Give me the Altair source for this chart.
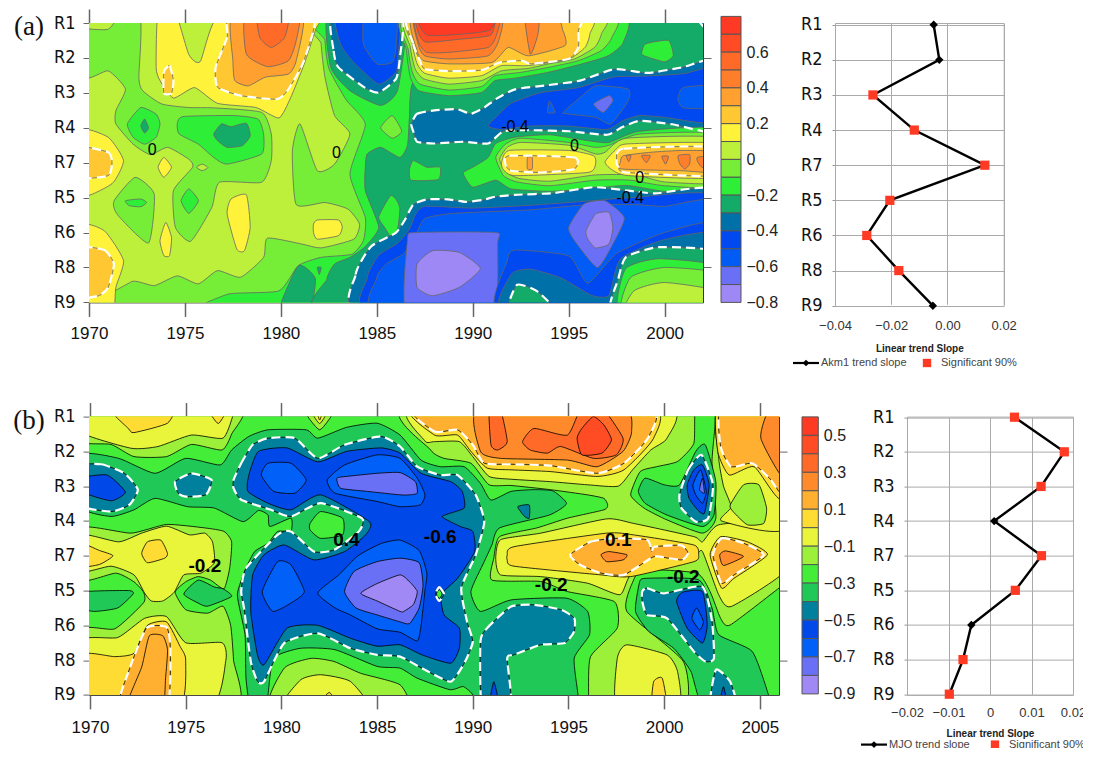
import altair as alt
import pandas as pd

ROWS = ["R1", "R2", "R3", "R4", "R7", "R5", "R6", "R8", "R9"]
LV_A = [0.7, 0.6, 0.5, 0.4, 0.3, 0.2, 0.1, 0.0, -0.1, -0.2, -0.3, -0.4, -0.5, -0.6, -0.7, -0.8]
COL_A = ["#ff3a24", "#ff4c24", "#ff6a28", "#ff7e2c", "#ffa030", "#ffc832", "#fff23a", "#bcf03a",
         "#76ee38", "#2eee38", "#14aa68", "#0070a8", "#0048f0", "#005cf5", "#6a70f5", "#9e88f5"]
LV_B = [0.5, 0.4, 0.3, 0.2, 0.1, 0.0, -0.1, -0.2, -0.3, -0.4, -0.5, -0.6, -0.7, -0.8, -0.9]
COL_B = ["#ff3a24", "#ff4c24", "#ff6a28", "#ff8a2c", "#ffb030", "#ffdc34", "#e8f53a", "#9cf03a",
         "#44ee38", "#20c858", "#00809c", "#0048e8", "#0060f8", "#6a70f5", "#a088f5"]

TREND_A = [-0.0049, -0.0029, -0.0265, -0.0118, 0.0133, -0.0205, -0.0287, -0.0173, -0.0052]
SIG_A = [0, 0, 1, 1, 1, 1, 1, 1, 0]
TREND_B = [0.0059, 0.0179, 0.0123, 0.001, 0.0124, 0.0061, -0.0045, -0.0065, -0.0098]
SIG_B = [1, 1, 1, 0, 1, 1, 0, 1, 1]

LABELS_A = [(1992.2, 2.97, "-0.4"), (1995.3, 3.52, "0"), (1998.7, 4.45, "0"), (1998.2, 5.0, "-0.4"),
            (1973.3, 3.64, "0"), (1982.9, 3.72, "0")]
LABELS_B = [(1976.0, 4.3, "-0.2"), (1983.4, 3.55, "0.4"), (1988.3, 3.45, "-0.6"), (1997.6, 3.55, "0.1"),
            (1994.1, 4.85, "-0.2"), (2001.0, 4.6, "-0.2")]

# (band lower bound, significance outline?, [year, row, year, row, ...]) painted in order
A_POLYS = [
 (0.0, 0, [1969, -1, 2003, -1, 2003, 9, 1969, 9]),
 (-0.1, 0, [1969.8,-.3,1972.6,-.3,1972.6,1.56,1972.8,1.94,1973.8,2.32,1975.2,2.42,1976.5,2.43,1979,2.56,1979.5,3.18,1979.5,3.94,1979,4.56,1976.8,4.56,1976.4,5.28,1975.3,6.25,1974.5,5.85,1974.4,4.8,1975.4,4.13,1975.2,3.9,1974.1,3.56,1973.2,3.77,1972.3,3.47,1971.4,2.89,1971.4,2.51,1971.9,1.89,1971,1.37,1969.8,1.54]),
 (-0.1, 0, [1971.3,5.1,1972.4,4.42,1973.4,4.9,1973.1,6.3,1971.5,5.5]),
 (0.0, 0, [1969.5,-.3,1971.5,-.3,1971,.18,1969.5,.12]),
 (-0.1, 0, [1971.5,8.4,1972.2,7.41,1973.4,7.52,1974.6,7.24,1975.7,7.47,1976.7,7.09,1977.9,7.28,1979.1,6.71,1979.3,6.16,1981.1,6.33,1982.1,6.44,1983.8,6.19,1984.1,5.76,1983.5,5.33,1982.3,5.14,1980.8,5.2,1980.6,3.66,1981,2.89,1981.9,4.23,1982.8,4.04,1983.6,3.18,1982.8,2.65,1982.3,1.56,1982.1,.6,1982.2,-.3,2003,-.3,2003,8.4]),
 (-0.2, 0, [1976.5,8.4,1977.2,7.77,1979.9,7.67,1980.9,6.95,1982.1,6.71,1983.7,6.62,1984.3,6.23,1984.4,5.57,1983.6,4.32,1984.4,2.9,1983.4,2.2,1982.5,1.3,1982.3,.5,1982.4,-.3,2003,-.3,2003,8.4]),
 (-0.2, 0, [1972,2.89,1972.7,2.42,1973.5,2.61,1973.7,2.89,1973.5,3.27,1972.9,3.47,1972.3,3.27]),
 (-0.3, 0, [1972.9,2.75,1973.1,3,1972.9,3.15,1972.7,2.95]),
 (-0.2, 0, [1974.6,2.89,1974.9,2.68,1977.5,2.65,1978.8,2.75,1979.1,3.18,1979,3.75,1977.2,4.04,1976.5,3.85,1975.7,3.47,1974.7,3.18]),
 (-0.3, 0, [1976.5,3.18,1976.9,2.89,1977.4,2.97,1978.2,2.87,1978.4,3.23,1978,3.51,1977.2,3.56,1976.7,3.37]),
 (-0.2, 0, [1971.9,5.09,1972.7,5.04,1973,5.14,1972.7,5.26,1972.1,5.23]),
 (-0.2, 0, [1974.8,5.09,1975.2,4.75,1975.7,5.09,1975.2,5.45]),
 (0.0, 0, [1975.6,4.13,1975.9,4.04,1976.2,4.14,1975.9,4.23]),
 (0.1, 0, [1973.6,-.3,1973.5,1.27,1973.7,1.65,1974.4,2.15,1975.5,1.85,1976.7,2.3,1978.7,2.42,1979.9,2.72,1980.5,2.15,1981.2,1.2,1981.8,.2,1982,-.3,1976.9,-.3,1975.8,1.1,1975.2,.9,1974.5,-.3]),
 (0.2, 1, [1973.9,1.41,1974.2,1.22,1974.4,1.65,1974.3,2.01,1973.9,2.01]),
 (0.2, 1, [1977.4,-.3,1977.2,.41,1976.6,1.27,1976.7,1.84,1977.9,2.08,1979.8,2.18,1980.4,1.89,1981.2,1.08,1981.7,-.3]),
 (0.3, 0, [1977.5,-.3,1977.5,1.08,1977.6,1.65,1978.3,1.8,1979.2,1.55,1980.4,1.46,1980.8,1.08,1981.1,-.3]),
 (0.4, 0, [1978.2,-.3,1978.2,.89,1979.3,1.25,1980.4,1.08,1980.8,.5,1980.9,-.3]),
 (0.5, 0, [1978.8,-.3,1978.9,.41,1979.5,.7,1980.2,.41,1980.4,-.3]),
 (0.1, 0, [1969.5,3.08,1971,3.27,1971.8,3.94,1971.2,4.6,1969.5,4.95]),
 (0.2, 1, [1969.5,3.56,1971,3.7,1971.2,4,1971,4.37,1969.5,4.42]),
 (0.1, 0, [1973.6,4.13,1973.9,3.85,1974.3,4.13,1973.9,4.42]),
 (0.1, 0, [1973.7,6.23,1974,5.71,1974.3,6.14,1974.2,6.66,1973.9,6.66]),
 (0.1, 0, [1977.2,5.47,1977.4,5.04,1978.2,4.92,1978.4,5.85,1978.1,6.52,1977.7,6.47]),
 (0.1, 0, [1981.7,5.76,1981.9,5.64,1983,5.64,1983.2,5.85,1983,6.09,1981.9,6.19,1981.7,6]),
 (0.1, 0, [1969.5,5.85,1970.8,5.95,1971.8,6.8,1971.4,7.57,1971.2,8.4,1969.5,8.4]),
 (0.2, 1, [1969.5,6.47,1970.8,6.5,1971.3,6.9,1971,7.57,1970.5,7.81,1969.5,7.81]),
 (-0.3, 0, [1979.8,8.4,1980.9,6.95,1981.8,7.33,1981.4,8.4]),
 (-0.3, 0, [1981.9,7,1982.1,7,1982,7.2]),
 (-0.3, 0, [1982.5,-.3,1982.6,1.27,1983.6,1.94,1985.2,2.36,1986.1,1.9,1986.4,-.3]),
 (-0.4, 1, [1982.7,-.3,1982.75,.8,1983,1.27,1984.4,1.86,1985.1,1.99,1986,1.6,1986.2,1,1986.25,-.3]),
 (-0.5, 0, [1982.9,-.3,1983.1,.6,1983.8,1.13,1985.1,1.75,1986,1.41,1986.1,.98,1986.1,-.3]),
 (-0.6, 0, [1984.4,-.3,1984.3,.6,1985,1.17,1985.8,1.13,1986,.7,1986,-.3]),
 (-0.3, 0, [1982.4,8.4,1982.4,7.33,1982.8,6.9,1983.6,6.71,1984.4,6.4,1985.1,5.85,1984.4,4.8,1984.4,4.13,1984.5,3.75,1985.2,3.56,1986.2,3.85,1986.6,3.5,1986.7,2.7,1986.9,1.7,1989,1.5,1992,1.2,1995,1,1997,.6,1997.5,-.3,2003,-.3,2003,8.4]),
 (-0.1, 0, [1985.2,3,1985.8,2.65,1986.3,3.1,1985.8,3.3]),
 (-0.2, 0, [1985.1,5.55,1985.7,4.95,1986,5.05,1986.2,5.3,1986.1,5.85,1985.8,6.15,1985.4,5.85]),
 (-0.2, 0, [1986.7,4.2,1986.9,3.94,1987.6,4.13,1988.3,4.13,1988.2,4.48,1986.8,4.5]),
 (-0.2, 0, [1998.8,.89,1999,.6,2000.2,.5,2000.45,.94,2000,1.11,1999.15,.98]),
 (-0.4, 1, [2001.5,-.3,2002.2,.2,2002.3,-.3]),
 (-0.2, 0, [1986.6,-.3,1986.55,.79,1986.75,1.56,1987.2,1.94,1988.75,2.08,1990.45,1.99,1991.15,1.65,1992.2,1.58,1993.95,1.41,1995.7,1.17,1997.05,.94,1997.85,.55,1997.6,-.3]),
 (-0.1, 0, [1986.65,-.3,1986.65,.79,1986.85,1.41,1987.25,1.75,1988.75,1.92,1990.45,1.82,1991.15,1.51,1992.55,1.41,1993.95,1.27,1995.5,1.08,1996.7,.79,1997.25,.41,1997.15,-.3]),
 (0.0, 0, [1986.75,-.3,1986.75,.7,1987,1.32,1987.45,1.6,1988.75,1.75,1990.45,1.65,1991.5,1.37,1992.9,1.3,1993.95,1.17,1995.3,1.03,1996.35,.7,1996.7,.32,1996.65,-.3]),
 (0.1, 0, [1986.8,-.3,1986.85,.6,1987.1,1.17,1987.5,1.44,1988.75,1.58,1990.45,1.51,1991.5,1.22,1992.9,1.22,1995,1.03,1995.85,.7,1996.1,.32,1995.95,-.3]),
 (0.2, 1, [1986.85,-.3,1986.9,.6,1987.25,1.08,1987.5,1.32,1988.9,1.38,1990.45,1.35,1991.4,1.13,1992.55,1.08,1993.05,1.17,1995,1.03,1995.5,.7,1995.5,.22,1995.35,-.3]),
 (0.3, 0, [1987,-.3,1987.1,.79,1987.45,1.08,1988.75,1.17,1991,1.13,1991.85,.7,1992.9,.94,1994.8,.65,1994.7,.22,1993.95,-.3]),
 (0.4, 0, [1987.05,-.3,1987.15,.6,1987.5,.94,1988.75,1.03,1990.8,.94,1991.35,.51,1991.4,-.3]),
 (0.4, 0, [1992.7,-.3,1993,.89,1993.4,.32,1993.45,-.3]),
 (0.5, 0, [1987.1,-.3,1987.15,.51,1987.6,.84,1988.75,.84,1990.8,.7,1991.25,.32,1991.25,-.3]),
 (0.6, 0, [1987.15,-.3,1987.2,.32,1987.6,.55,1989.4,.46,1990.9,.36,1991.15,.03,1991.2,-.3]),
 (0.7, 0, [1987.2,-.3,1987.3,.15,1987.7,.36,1989.4,.32,1990.9,.2,1991.1,-.3]),
 (-0.4, 1, [1986.8,2.9,1987.1,2.6,1988,2.5,1989.2,2.47,1989.9,2.6,1990.6,2.42,1991.2,2.18,1992.2,1.9,1993.9,1.78,1995.6,1.65,1997.4,1.32,1999.1,1.43,2000.9,1.27,2003,1.05,2003,3.1,2000.4,2.9,1998.7,2.8,1997.8,2.98,1997,3.2,1995,3.1,1993,3.07,1991.6,3.1,1990.8,3.45,1989.5,3.4,1988,3.45,1987.1,3.4,1986.9,3.1]),
 (-0.5, 0, [1990.8,2.95,1991.3,2.65,1992,2.3,1993.5,2,1995.5,1.85,1997.3,1.55,1999,1.52,2001,1.45,2003,1.25,2003,2.85,2000,2.7,1998.7,2.65,1997.8,2.8,1997,3.05,1995,2.95,1993,2.95,1991.5,3.05]),
 (-0.6, 0, [1994.7,2.56,1995.5,2.18,1996.4,1.8,1998.1,1.89,1998.1,2.23,1997.2,2.89,1996.4,2.7,1994.9,2.6]),
 (-0.6, 0, [2000.7,2.13,2001,1.84,2003,1.8,2003,2.42,2001,2.43,2000.7,2.2]),
 (-0.6, 0, [1993.9,2.56,1994,2.23,1994.3,2.56]),
 (-0.7, 0, [1996.3,2.32,1997.1,2.08,1997.3,2.23,1996.8,2.56]),
 (-0.2, 0, [1989.5,4.3,1990,4.13,1990.8,3.85,1991.2,3.45,1992.2,3.27,1994,3.2,1996,3.37,1997.1,3.42,1998.7,3.1,2003,3.05,2003,4.87,2000,4.82,1998,4.65,1996,4.75,1994,4.82,1992,4.75,1991.2,4.5,1990,4.7]),
 (-0.1, 0, [1991.2,3.85,1991.7,3.47,1992.5,3.3,1995,3.42,1996.4,3.56,1997.1,3.5,1998.7,3.18,2003,3.2,2003,4.66,2000,4.66,1998.2,4.5,1996.4,4.5,1994,4.66,1992.3,4.55,1991.6,4.37]),
 (0.0, 0, [1991.4,3.9,1991.8,3.56,1992.5,3.42,1995,3.5,1996.4,3.75,1996.9,3.7,1998,3.3,2003,3.3,2003,4.55,2000,4.55,1998.5,4.35,1996.4,4.35,1994,4.53,1992.4,4.45,1991.7,4.25]),
 (0.1, 0, [1991.5,4,1991.9,3.65,1995,3.65,1996.3,3.8,1996.4,4.04,1996,4.28,1992.2,4.37,1991.6,4.2]),
 (0.2, 1, [1991.9,3.8,1995.3,3.85,1995.3,4.18,1993.6,4.28,1992,4.23,1991.7,4.04]),
 (0.3, 0, [1992.85,3.85,1993.1,3.85,1993.1,4.18,1992.85,4.18]),
 (0.1, 0, [1996.9,3.97,1997.5,3.6,1998.1,3.46,2003,3.46,2003,4.42,1998.1,4.37,1997.2,4.18]),
 (0.2, 1, [1997.5,3.97,1997.85,3.6,2003,3.56,2003,4.37,1998,4.28,1997.6,4.13]),
 (0.3, 0, [1997.7,3.98,1997.85,3.8,1999.3,3.7,2000.9,3.65,2003,3.7,2003,4.28,2000.9,4.23,1997.75,4.18]),
 (0.4, 0, [1998,3.8,1998.25,3.8,1998.13,3.97]),
 (0.4, 0, [1998.8,3.8,1999.25,3.8,1999.05,4]),
 (0.4, 0, [1999.85,3.82,2000.2,3.82,2000.05,4.04]),
 (0.4, 0, [2000.7,3.8,2001.3,3.77,2001.3,4.04,2001.05,4.18,2000.8,4.04]),
 (0.4, 0, [2001.7,3.85,2003,3.8,2003,4.2,2001.95,4.13]),
 (-0.4, 1, [1984.5,8.4,1983.9,7.2,1984.7,6.4,1986,6,1986.5,5.6,1986.9,5.2,1987.6,5.05,1988.7,5.05,1989.6,5.12,1990.5,5.07,1991.2,4.97,1992.2,4.92,1994.2,4.87,1996.3,4.7,1998.1,4.8,1999.5,4.88,2003,4.85,2003,8.4]),
 (-0.5, 0, [1985,8.4,1984.5,7.3,1985.1,6.65,1986.1,6.3,1986.7,5.9,1987,5.5,1987.5,5.25,1990,5.3,1993,5.22,1996,5.1,1998.3,5,2003,5,2003,8.4]),
 (-0.6, 0, [1985.4,8.4,1985,7.3,1985.5,6.9,1986.4,6.6,1987,6.1,1987.5,5.6,1989,5.45,1993,5.35,1996,5.2,1998.5,5.2,2000,5.25,2003,5.15,2003,8.4]),
 (-0.7, 0, [1986.6,8.4,1986.6,6.2,1987,6,1991.2,6,1991.3,6.3,1991,8.4]),
 (-0.8, 0, [1987.1,7.57,1987.1,6.9,1987.9,6.52,1989.3,6.57,1990.4,7.03,1989.3,7.57,1987.9,7.81]),
 (-0.7, 0, [1995,5.85,1995.8,5.18,1996.9,5.09,1997.9,5.57,1997.4,6.23,1996.5,7,1995.3,6.23]),
 (-0.8, 0, [1995.9,5.95,1996.4,5.47,1997.1,5.42,1997.3,5.85,1997.1,6.33,1996.4,6.44,1996,6.19]),
 (-0.5, 0, [1991.5,8.4,1991.8,6.8,1992.2,6.5,1995,6.67,1996,7.45,1997.5,6.6,2000,6,2003,5.75,2003,8.4]),
 (-0.4, 0, [1991.7,8.4,1992,7.2,1993,7.05,1994.6,7.3,1996.2,7.8,1997.1,7.8,1997.7,6.75,2000,6.2,2003,6.05,2003,8.4]),
 (-0.3, 1, [1991.8,8.4,1992.3,7.5,1993.4,7.7,1994.5,8.4]),
 (-0.3, 1, [1997.3,8.4,1997.6,7.3,1998,6.7,1999.7,6.42,2003,6.6,2003,8.4]),
 (-0.2, 0, [1997.7,8.4,1997.95,7.05,1999.7,6.75,2003,7,2003,8.4]),
 (-0.1, 0, [1997.85,8.4,1998.2,7.3,2000,7,2003,7.2,2003,8.4]),
 (0.0, 0, [1998,8.4,1998.4,7.67,2000,7.43,2003,7.7,2003,8.4]),
]

B_POLYS = [
 (-0.3, 0, [1969, -1, 2007, -1, 2007, 9, 1969, 9]),
 (-0.2, 0, [1969.5,-.3,1969.5,.72,1971.1,.8,1972.3,1.15,1974,1.15,1975.3,.8,1976.9,.96,1977.4,.5,1977.8,-.3]),
 (-0.1, 0, [1969.5,-.3,1969.5,.45,1972.15,.91,1973.55,.86,1975.3,.53,1976.95,.62,1977.45,0,1977.5,-.3]),
 (0.0, 0, [1971,-.3,1972,.34,1972.3,.46,1974.05,.19,1974.3,-.3]),
 (0.0, 0, [1976.1,-.3,1976.7,.2,1977.2,-.3]),
 (-0.2, 0, [1981.1,-.3,1982,.38,1982.85,-.3]),
 (-0.1, 0, [1981.45,-.3,1982,.2,1982.5,-.3]),
 (0.0, 0, [1981.8,-.3,1982,.1,1982.2,-.3]),
 (-0.2, 0, [1969.5,3.2,1972.15,3.35,1974,3.1,1976,3.2,1977,3.3,1977.4,3.6,1977.3,4.35,1977,4.95,1976.3,4.7,1975.65,4.6,1975,4.75,1974.45,5.05,1975,5.55,1976.15,5.65,1976.95,5.45,1977.35,6,1977.5,7,1977.6,8.4,1969.5,8.4,1969.5,6.15,1971.3,6.1,1972.8,5.35,1972.8,5.05,1972.3,4.75,1971.35,4.5,1969.5,4.7]),
 (-0.1, 0, [1969.5,6.45,1971.45,6.35,1972.85,5.8,1974,5.75,1975,6.5,1976.9,6.5,1977.1,7,1976.2,8.4,1969.5,8.4]),
 (0.0, 0, [1969.5,6.85,1971.3,6.9,1972.3,6.8,1973,6,1974,5.9,1974.7,6.6,1975,7,1974.6,8.4,1969.5,8.4]),
 (0.1, 1, [1971.5,8.4,1972.1,7.2,1972.95,6.08,1974,6.05,1974.2,6.7,1974,8.4]),
 (0.1, 0, [1971.9,8.4,1972.7,7.2,1973.1,6.3,1973.8,6.3,1974.05,6.7,1973.95,7.5,1973.75,8.4]),
 (-0.1, 0, [1969.5,3.4,1971.5,3.6,1972.7,3.35,1974,3.15,1975.2,3.4,1976,3.35,1976.4,3.6,1976.5,4.2,1975.8,4.5,1974.9,4.55,1974.4,5.05,1973.8,5.3,1973.2,5.3,1972.85,5.07,1972.3,4.55,1971.1,4.3,1969.5,4.45]),
 (0.0, 0, [1969.5,3.65,1970.5,3.85,1971.2,4,1970.5,4.25,1969.5,4.3]),
 (0.0, 0, [1972.7,3.93,1973,3.6,1973.7,3.55,1974.05,3.93,1973.9,4.07,1973,4.2]),
 (-0.4, 0, [1969.5,5.05,1972,5,1972.25,5.1,1971.45,5.5,1970.25,5.6,1969.5,5.5]),
 (-0.4, 0, [1974.9,5.1,1975.65,4.7,1976.5,4.9,1976.95,4.95,1977.4,5.17,1976.15,5.45,1975.65,5.36]),
 (-0.2, 0, [1979.5,8.4,1980.15,7.23,1981.55,6.95,1982.75,7.04,1984.15,7.38,1986.2,7.71,1986.4,8.4]),
 (-0.1, 0, [1980.05,8.4,1981,7.57,1982.05,7.42,1983.6,7.61,1984.5,8.4]),
 (0.0, 0, [1981.8,8.4,1982.5,7.93,1983,8.4]),
 (-0.4, 0, [1969.5,1.1,1971.5,1.2,1973.4,1.63,1975,1.2,1976.8,1.39,1977.4,.96,1978.3,.57,1979.3,.38,1981.3,.38,1981.9,.62,1983.4,.31,1985,.19,1986.2,.53,1987.3,1.25,1988.3,1.44,1989.55,1.44,1990.4,1.92,1990.95,2.4,1992,2.15,1993.2,2.1,1994.2,2.14,1994.9,2.5,1994,2.83,1991.4,3.2,1991,3.69,1990.6,4.17,1989.9,5.03,1990.4,5.6,1992,5.27,1994.9,5.22,1996,5.6,1996.1,6.27,1995.3,6.94,1995.5,8,1995.5,8.4,1990,8.4,1990,8,1989.5,7.76,1988.8,7.85,1987.1,7.52,1986.2,7.23,1985,7.18,1982.8,6.7,1981,6.66,1979.6,6.94,1979.3,8,1979.2,8.4,1978.4,8.4,1978.15,7.52,1978.1,6.27,1977.7,5.12,1978.15,4.36,1978.6,3.88,1979.3,3.64,1979.8,3.3,1980.5,3.29,1980.5,2.92,1979.4,3.16,1979.3,2.83,1978.8,2.7,1978,3.02,1976.5,2.63,1975.1,2.59,1973.4,2.35,1972.3,2.68,1971.1,2.87,1969.5,2.6]),
 (-0.5, 1, [1977.5,1.82,1977.9,1.34,1978.5,.81,1979.3,.62,1980.7,.62,1981.9,1.2,1983.3,.81,1985.2,.57,1986.2,.86,1987.1,1.44,1988.3,1.68,1989.2,1.68,1990.15,2.25,1990.6,3.02,1990.15,3.98,1989.4,4.93,1989.7,5.89,1990,6.47,1989.6,7.04,1988.85,7.62,1987.5,7.28,1986.2,6.9,1985,6.85,1983.6,6.66,1981.9,6.23,1980.15,6.51,1979.1,7.61,1978.75,7.61,1978.4,7.04,1978.05,5.51,1977.9,5.03,1978.15,4.36,1979.8,3.4,1980.5,3.3,1981.7,3.88,1982.75,3.83,1984.05,3.3,1984.2,2.92,1982.05,2.49,1980.5,2.87,1979.45,2.68,1977.9,2.39,1977.5,2.06]),
 (-0.6, 0, [1978.3,1.68,1978.8,1,1980.3,.9,1981.9,1.3,1983.4,1,1985.2,.9,1986.2,1.05,1987.3,1.63,1988.85,1.87,1989.45,2.15,1989.55,2.63,1988.4,2.87,1989.35,3.16,1990,3.3,1990.1,3.88,1989.2,4.65,1988.35,5.12,1988.5,5.7,1989.3,6.08,1989.3,6.66,1988.85,7.09,1987.35,6.85,1986.2,6.56,1985,6.6,1983.6,6.37,1981.9,6,1980.3,6.08,1979.1,7.13,1978.75,6.85,1978.4,5.6,1978.5,4.55,1979.1,3.97,1980.15,3.69,1981.7,4.12,1983.3,3.88,1984.4,3.4,1984.6,3.02,1982.05,2.25,1980.5,2.68,1979.3,2.49,1978.25,2.15]),
 (-0.7, 0, [1978.95,1.68,1979.3,1.34,1980.5,1.34,1981.3,1.82,1980.7,2.2,1979.6,2.15]),
 (-0.7, 0, [1982.4,1.82,1983.3,1.39,1985,1.1,1986.2,1.2,1987.1,1.77,1987.5,2.25,1987.25,2.54,1986.2,2.59,1985,2.44,1982.8,2.2]),
 (-0.8, 0, [1982.9,1.77,1983.4,1.72,1985,1.63,1986.2,1.61,1987,1.87,1987.1,2.2,1986.7,2.25,1986.2,2.25,1984.5,2.15,1983.1,2.06]),
 (-0.7, 0, [1979,5.03,1979.8,4.17,1980.5,4.26,1981.2,5.03,1980.5,5.36,1979.55,5.6]),
 (-0.7, 0, [1981.9,5.07,1983,4.55,1984,4,1985.2,3.65,1986.2,3.55,1987.2,3.85,1987.6,4.5,1987.5,5,1987.3,6,1987.1,6.45,1986.2,6.2,1985,6.1,1983.6,5.7,1982.8,5.5]),
 (-0.8, 0, [1983.3,5.03,1983.8,4.45,1985,4.17,1986.2,4.07,1987.2,4.2,1987.4,4.85,1987.2,5.5,1986.7,5.95,1986.2,5.9,1985,5.7,1983.9,5.5]),
 (-0.9, 0, [1984.15,5.08,1985,4.8,1986.2,4.55,1986.7,4.75,1987.1,5.03,1986.9,5.4,1986.4,5.6,1986.2,5.6,1985,5.3]),
 (-0.5, 1, [1969.5,1.44,1970.6,1.37,1971.8,1.63,1972.5,2.1,1972.05,2.54,1971.1,2.73,1969.5,2.54]),
 (-0.6, 0, [1969.5,1.77,1970.9,1.68,1971.85,2.17,1971.1,2.42,1969.5,2.15]),
 (-0.5, 1, [1974.45,1.87,1975.3,1.63,1976.35,1.82,1976.05,2.25,1975,2.3,1974.6,2.2]),
 (-0.3, 0, [1981.5,3.07,1982.05,2.73,1983.2,2.92,1983.2,3.4,1982.05,3.5,1981.5,3.26]),
 (-0.5, 1, [1988.05,5.1,1988.25,4.9,1988.5,5.1,1988.25,5.3]),
 (-0.3, 0, [1988.1,5.1,1988.25,4.97,1988.4,5.1,1988.25,5.23]),
 (-0.2, 0, [1986.7,-.3,1987.8,.96,1988.5,1.2,1989.9,1.34,1990.85,1.96,1992,1.98,1994.05,2.1,1996,2.25,1996.85,2.35,1997.05,2.54,1996.85,2.68,1994.95,2.92,1993.35,3.2,1991.4,3.45,1991.1,4.07,1991,4.7,1993.55,4.74,1994.95,5.03,1997.4,5.32,1997.55,6.08,1996.15,6.9,1996.05,8,1996.05,8.4,2001,8.4,2001,7.04,1998.05,5.6,1998.4,4.7,1998.95,4.4,2001.7,4.5,2002.4,5.03,2002.95,5.8,2003.45,5.99,2006,4.93,2006.4,4.8,2006.4,-.3]),
 (-0.3, 0, [1998.25,2.25,1998.75,1.58,1999.6,1.44,2000.7,1.29,2001.55,.77,2001.65,-.3,2002.7,-.3,2002.5,1.29,2002.7,2.92,2002,3.35,2000.15,2.97,1998.95,2.63]),
 (-0.4, 0, [1998.65,2.15,1999,1.77,2000,1.96,2000.8,1.96,2001.65,1,2002.15,.81,2002.7,1.87,2002.6,2.83,2002,3.16,2000.15,2.83,1999,2.49]),
 (-0.5, 1, [2000.8,2.25,2001.25,1.53,2001.95,1.1,2002.55,1.96,2002.3,2.92,2001.65,3.02,2000.9,2.63]),
 (-0.6, 0, [2001.2,1.96,2001.55,1.53,2002,1.39,2002.35,1.96,2002.1,2.78,2001.75,2.68,2001.3,2.35]),
 (-0.7, 0, [2001.5,1.96,2001.9,1.53,2002.2,2.15,2002,2.49,2001.65,2.25]),
 (-0.8, 0, [2001.85,2.1,2002,1.77,2002.1,2.2]),
 (-0.1, 0, [1986.9,-.3,1987.5,.7,1988,.72,1989.3,.72,1990,1.15,1990.85,1.72,1992,1.8,1994.05,1.87,1996,1.96,1997.6,2,1998.35,1.53,1999.3,.96,2000.15,.62,2000.1,-.3]),
 (0.0, 0, [1986.95,-.3,1988,.53,1989.2,.53,1989.9,1,1990.75,1.48,1992,1.53,1994.05,1.58,1996.5,1.72,1997.9,1.53,1999.45,.62,1999.2,-.3]),
 (0.1, 1, [1987.1,-.3,1988,.43,1989.2,.38,1990,.81,1990.6,1.34,1992,1.37,1994.05,1.41,1996.5,1.63,1997.9,1.34,1999.2,.57,1999.05,-.3]),
 (0.2, 0, [1990.35,-.3,1990.4,1,1991.45,1.2,1994.95,1.25,1996.5,1.44,1997.85,1,1998.3,.43,1997.75,-.3]),
 (0.3, 0, [1990.85,-.3,1990.95,.81,1991.3,.96,1991.8,.72,1991.4,-.3]),
 (0.3, 0, [1992.6,.72,1993.2,.34,1994.95,.53,1995.7,-.3,1996.7,-.3,1997.85,.62,1997.5,1.1,1996.3,1.2,1994.6,.86,1993.9,1.05,1993,.96]),
 (0.4, 0, [1995.45,.62,1995.7,.34,1996.3,0,1996.85,.24,1997.25,.67,1996.75,1.05,1995.7,1.1]),
 (-0.1, 0, [1991.2,4.07,1991.45,3.54,1993.55,3.35,1997,2.94,1998.4,3.07,2001.55,3.45,2002,3.6,2002.85,3.11,2006,2.97,2006.4,3,2006.4,4.4,2003.5,5.46,2002.85,5.12,2002,3.88,2001.55,3.98,1998.4,4.45,1997.7,5.12,1996,4.79,1993.55,4.6,1991.45,4.55]),
 (-0.1, 0, [2002.8,-.3,2002.85,1.2,2003.1,2,2003.5,2.6,2003,3,2006.4,3.2,2006.4,-.3]),
 (-0.2, 0, [2003.45,2.54,2004.15,1.96,2004.95,1.96,2005.35,2.63,2005.2,3.07,2004.35,3.11,2003.6,2.73]),
 (0.0, 0, [2002.85,-.3,2002.8,1,2003.4,1.68,2004.7,1.44,2006.1,2.35,2006.4,-.3]),
 (0.1, 1, [2003,-.3,2002.95,.86,2003.5,1.44,2004.6,1.34,2005.5,1.77,2006.4,2.3,2006.4,-.3]),
 (0.2, 0, [2005.05,.62,2005.55,-.3,2006.4,-.3,2006.4,1.87]),
 (0.0, 0, [1991.8,3.98,1992.15,3.74,1997,3.35,1998.4,3.4,2001.55,3.69,2001.8,3.98,2001.55,4.17,1998.25,4.6,1996.7,4.55,1992.15,4.3,1991.8,4.12]),
 (0.1, 1, [1995.1,3.97,1996.15,3.6,1997.4,3.5,1999.1,3.54,1999.35,3.87,1999.5,3.74,2000.9,3.7,2001.25,3.93,2000.9,4.12,1999.65,4.02,1999.3,4.07,1997.9,4.55,1996.7,4.5,1995.6,4.26]),
 (0.2, 0, [1996.7,3.97,1997.1,3.88,1998.05,3.97,1997.85,4.12,1997,4.17]),
 (0.0, 0, [2002.4,3.97,2002.95,3.45,2004.35,3.6,2005.4,3.97,2003.65,4.65,2003,4.93]),
 (0.1, 1, [2002.55,3.98,2003,3.5,2004.15,3.64,2005.2,3.98,2003.65,4.55,2003,4.79]),
 (0.2, 0, [2002.9,3.98,2003.2,3.86,2004.15,4.02,2003.1,4.28]),
 (-0.4, 0, [1998.5,5.6,1998.7,4.79,1999,4.65,2001.8,4.69,2002.5,5.5,2002.85,6.27,2004.6,6.75,2005.45,8,2005.5,8.4,2002.15,8.4,2001.4,7.33,2000.5,6.66,1999.2,6.18]),
 (-0.5, 1, [1998.85,5.03,1999.1,4.93,2000,5.08,2002,4.89,2002.5,5.89,2002.6,6.95,2002.15,7.04,2001.55,6.75,2000.15,5.8,1999.1,5.7,1998.85,5.3]),
 (-0.5, 1, [2002.4,8.4,2002.7,7.28,2003.45,7.62,2003.8,8.4]),
 (-0.6, 0, [2000.65,5.32,2000.95,5.05,2002,5.03,2002.25,5.99,2002,6.51,2001.2,6.08]),
 (-0.7, 0, [2001.45,5.8,2001.7,5.5,2002.05,5.9,2001.85,6.13]),
 (-0.6, 0, [2002.85,8.4,2003.1,7.76,2003.3,8.4]),
 (-0.5, 1, [1990.4,6.47,1990.75,6.08,1992,5.46,1993.2,5.41,1994.6,5.55,1995.3,5.79,1995.3,6.17,1994.8,6.51,1993.55,6.56,1992.15,6.85,1991.8,6.95,1992,8.4,1990.5,8.4]),
 (-0.6, 0, [1990.85,8.4,1991.1,7.62,1991.4,8.4]),
 (-0.5, 0, [1992.35,2.59,1992.95,2.54,1992.95,2.92,1992.7,2.87]),
 (-0.1, 0, [1997.55,8.4,1997.55,6.95,1998.05,6.56,2000.15,6.85,2000.7,7.33,2000.75,8.4]),
 (0.0, 0, [1999.35,8.4,1999.45,7.62,1999.9,7.52,2000.15,8.4]),
]

COND = "DejaVu Sans Condensed, Liberation Sans"
SANS = "Liberation Sans"
ONE = alt.Data(values=[{"a": 0}])
ROW_EXPR = "['R1','R2','R3','R4','R7','R5','R6','R8','R9'][datum.value]"


def poly_frame(polys):
    out, n = [], 0
    for pid, (lv, dash, xy) in enumerate(polys):
        for k in range(0, len(xy), 2):
            out.append({"pid": pid, "i": n, "yr": xy[k], "row": xy[k + 1], "lv": str(lv), "dash": dash})
            n += 1
    return pd.DataFrame(out)


def heat(polys, levels, colors, labels, x0, x1, ticks, width, height, xrange, line, tag, bold, lsize, ypad):
    df = poly_frame(polys)
    xs = alt.Scale(domain=[x0, x1], nice=False, zero=False, range=xrange)
    ys = alt.Scale(domain=[8, 0], nice=False, zero=False)
    x = alt.X("yr:Q", scale=xs, title=None,
              axis=alt.Axis(values=ticks, format="d", grid=False, domain=False, tickSize=14, tickColor="#666",
                            tickWidth=1.5, labelFont=SANS, labelFontSize=17, labelColor="#111", labelPadding=ypad,
                            labelOverlap=False, labelFlush=False))
    y = alt.Y("row:Q", scale=ys, title=None,
              axis=alt.Axis(values=list(range(9)), labelExpr=ROW_EXPR,
                            grid=False, domain=False, tickSize=6, tickColor="#666", labelFont=COND, labelFontSize=18,
                            labelColor="#111", labelPadding=8, labelOverlap=False, labelFlush=False))
    fills = alt.Chart(df).mark_line(filled=True, stroke=line, strokeWidth=0.8, interpolate="cardinal-closed",
                                    tension=0.45, clip=True).encode(
        x=x, y=y, detail="pid:N", order="i:Q",
        color=alt.Color("lv:N", scale=alt.Scale(domain=[str(v) for v in levels], range=colors), legend=None))
    dashes = alt.Chart(df[df.dash == 1]).mark_line(stroke="#ffffff", strokeWidth=2.2, strokeDash=[9, 5],
                                                   interpolate="cardinal-closed", tension=0.45, clip=True).encode(
        x=alt.X("yr:Q", scale=xs, axis=None), y=alt.Y("row:Q", scale=ys, axis=None), detail="pid:N", order="i:Q")
    ldf = pd.DataFrame(labels, columns=["yr", "row", "t"])
    txt = alt.Chart(ldf).mark_text(font=SANS, fontSize=lsize, fontWeight="bold" if bold else "normal",
                                   color="#000").encode(
        x=alt.X("yr:Q", scale=xs, axis=None), y=alt.Y("row:Q", scale=ys, axis=None), text="t:N")
    ghost = alt.Chart(pd.DataFrame({"yr": [x0], "row": [0]})).mark_point(opacity=0).encode(
        x=alt.X("yr:Q", scale=xs, title=None,
                axis=alt.Axis(orient="top", values=ticks, labels=False, domain=False, grid=False, tickSize=14,
                              tickColor="#666", tickWidth=1.5)),
        y=alt.Y("row:Q", scale=ys, title=None,
                axis=alt.Axis(orient="right", values=[1, 3, 5, 7], labels=False, domain=False, grid=False, tickSize=8,
                              tickColor="#666")))
    mark = alt.Chart(ONE).mark_text(font="Liberation Serif", fontSize=27, color="#111", align="center",
                                    baseline="middle").encode(
        x=alt.value(-60), y=alt.value(4), text=alt.value(tag))
    return alt.layer(fills, dashes, txt, ghost, mark).resolve_axis(x="independent", y="independent").properties(
        width=width, height=height, view=alt.ViewConfig(stroke="#333", strokeWidth=1))


def bar(levels, colors, step, top, yrange, values, width, height):
    df = pd.DataFrame({"lo": levels, "hi": [round(v + step, 1) for v in levels], "lv": [str(v) for v in levels]})
    ys = alt.Scale(domain=[min(levels), top], nice=False, zero=False, range=yrange)
    return alt.Chart(df).mark_rect(stroke="#555", strokeWidth=1).encode(
        x=alt.value(0), x2=alt.value(width),
        y=alt.Y("lo:Q", scale=ys, title=None,
                axis=alt.Axis(orient="right", values=values, grid=False, domain=False, ticks=False, labelFont=SANS,
                              labelFontSize=16, labelColor="#222", labelPadding=5, labelOverlap=False, labelFlush=False,
                              labelExpr="datum.value==0?'0':format(datum.value,'.1f')")),
        y2="hi:Q",
        color=alt.Color("lv:N", scale=alt.Scale(domain=[str(v) for v in levels], range=colors), legend=None),
    ).properties(width=width, height=height, view=alt.ViewConfig(stroke=None))


def trend(vals, sig, name, xdom, xvals, lexpr, width, height, yrange, lx, ly, lp, tp):
    df = pd.DataFrame({"row": list(range(9)), "v": vals, "sig": sig})
    xs = alt.Scale(domain=xdom, nice=False, zero=False)
    ys = alt.Scale(domain=[8, 0], nice=False, zero=False, range=yrange)
    x = alt.X("v:Q", scale=xs, title="Linear trend Slope",
              axis=alt.Axis(values=xvals, labelExpr=lexpr, grid=True, gridColor="#aaaaaa", domain=False, ticks=False,
                            labelFont=SANS, labelFontSize=13, labelColor="#333", labelPadding=lp, labelOverlap=False,
                            labelFlush=False, titleFont=SANS, titleFontSize=10, titleFontWeight="bold", titleColor="#222",
                            titlePadding=tp))
    y = alt.Y("row:Q", scale=ys, title=None,
              axis=alt.Axis(values=list(range(9)), labelExpr=ROW_EXPR,
                            grid=True, gridColor="#aaaaaa", domain=False, tickSize=3, tickColor="#999", labelFont=COND,
                            labelFontSize=18, labelColor="#111", labelPadding=10, labelOverlap=False, labelFlush=False))
    line = alt.Chart(df).mark_line(color="#000", strokeWidth=2.4).encode(x=x, y=y, order="row:Q")
    dia = alt.Chart(df[df.sig == 0]).mark_point(shape="diamond", filled=True, color="#000", size=70, opacity=1).encode(
        x=x, y=y)
    sq = alt.Chart(df[df.sig == 1]).mark_point(shape="square", filled=True, color="#ff3a24", size=85, opacity=1).encode(
        x=x, y=y)
    key_line = alt.Chart(ONE).mark_rule(color="#000", strokeWidth=2.2).encode(
        x=alt.value(lx), x2=alt.value(lx + 26), y=alt.value(ly))
    key_dia = alt.Chart(ONE).mark_point(shape="diamond", filled=True, color="#000", size=45, opacity=1).encode(
        x=alt.value(lx + 13), y=alt.value(ly))
    key_t1 = alt.Chart(ONE).mark_text(font=SANS, fontSize=11, color="#444", align="left", baseline="middle").encode(
        x=alt.value(lx + 28), y=alt.value(ly), text=alt.value(name))
    key_sq = alt.Chart(ONE).mark_point(shape="square", filled=True, color="#ff3a24", size=70, opacity=1).encode(
        x=alt.value(lx + 134), y=alt.value(ly))
    key_t2 = alt.Chart(ONE).mark_text(font=SANS, fontSize=11, color="#444", align="left", baseline="middle").encode(
        x=alt.value(lx + 148), y=alt.value(ly), text=alt.value("Significant 90%"))
    return alt.layer(line, dia, sq, key_line, key_dia, key_t1, key_sq, key_t2).properties(
        width=width, height=height, view=alt.ViewConfig(stroke="#aaaaaa", strokeWidth=1))


def spacer(w):
    return alt.Chart(ONE).mark_point(opacity=0).encode(x=alt.value(0), y=alt.value(0)).properties(
        width=w, height=10, view=alt.ViewConfig(stroke=None))


heat_a = heat(A_POLYS, LV_A, COL_A, LABELS_A, 1970, 2002, list(range(1970, 2001, 5)), 614, 279.4, [0, 614],
              "#666666", "(a)", False, 16, 9)
bar_a = bar(LV_A, COL_A, 0.1, 0.8, [279.4, -6.6], [0.6, 0.4, 0.2, 0.0, -0.2, -0.4, -0.6, -0.8], 20, 279.4)
line_a = trend(TREND_A, SIG_A, "Akm1 trend slope", [-0.04, 0.02], [-0.04, -0.02, 0, 0.02], "format(datum.value,'.2f')",
               168.7, 283, [282.7, 1.7], -42, 340, 13, 11)
heat_b = heat(B_POLYS, LV_B, COL_B, LABELS_B, 1970, 2006, list(range(1970, 2006, 5)), 690, 278.3, [1, 690],
              "#000000", "(b)", True, 19, 11)
bar_b = bar(LV_B, COL_B, 0.1, 0.6, [277.3, 0.3], [0.5, 0.3, 0.1, -0.1, -0.3, -0.5, -0.7, -0.9], 16.3, 278.3)
line_b = trend(TREND_B, SIG_B, "MJO trend slope", [-0.02, 0.02], [-0.02, -0.01, 0, 0.01, 0.02],
               "datum.value==0?'0':format(datum.value,'.2f')", 166, 278.3, [277.6, 0.6], -46, 328, 12, 9)

row_a = alt.hconcat(heat_a, spacer(18), bar_a, spacer(94), line_a, spacing=0, bounds="flush").resolve_scale(
    color="independent")
row_b = alt.hconcat(heat_b, spacer(22.7), bar_b, spacer(88), line_b, spacing=0, bounds="flush").resolve_scale(
    color="independent")
chart = alt.vconcat(row_a, row_b, spacing=31.6, bounds="full",
                    padding={"left": 4, "top": -1, "right": -4, "bottom": -3},
                    background="#ffffff").resolve_scale(color="independent")
chart.save("out.html", embed_options={"renderer": "svg", "actions": False})
